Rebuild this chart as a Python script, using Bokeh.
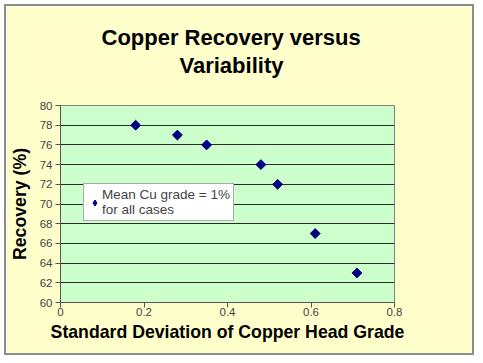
import math
from bokeh.plotting import figure
from bokeh.models import Legend, LegendItem, FixedTicker, Range1d, Title
from bokeh.embed import file_html
from bokeh.resources import INLINE

std_dev = [0.18, 0.28, 0.35, 0.48, 0.52, 0.61, 0.71]
recovery = [78, 77, 76, 74, 72, 67, 63]
x_ticks = [0, 0.2, 0.4, 0.6, 0.8]
y_ticks = [60, 62, 64, 66, 68, 70, 72, 74, 76, 78, 80]
title_lines = ["Copper Recovery versus", "Variability"]
legend_label = "Mean Cu grade = 1%\nfor all cases"

W, H = 470, 351
p = figure(width=W, height=H, output_backend="svg", toolbar_location=None,
           x_range=Range1d(0, 0.8), y_range=Range1d(60, 80),
           min_border_left=53, min_border_right=82, min_border_top=99, min_border_bottom=55)
p.styles = {"border": "2px solid #8c8c8c", "margin": "4px"}
p.background_fill_color = "#CCFFCC"
p.border_fill_color = "#FFFFCC"
p.outline_line_color = "#808080"
p.outline_line_width = 1


def style_title(t, standoff, offset):
    t.align = "left"
    t.text_font = "Liberation Sans"
    t.text_font_style = "bold"
    t.text_font_size = "22px"
    t.text_color = "#000000"
    t.standoff = standoff
    t.offset = offset


# spacer between the plot area and the two title lines
spacer = Title(text=" ", text_font_size="1px", standoff=24)
p.add_layout(spacer, "above")
t2 = Title(text=title_lines[1])
style_title(t2, 1, 119)
p.add_layout(t2, "above")
p.title.text = title_lines[0]
style_title(p.title, 1, 41)

p.xgrid.visible = False
p.ygrid.ticker = FixedTicker(ticks=y_ticks)
p.ygrid.grid_line_color = "#2a2a2a"
p.ygrid.grid_line_width = 1

p.xaxis.ticker = FixedTicker(ticks=x_ticks)
p.yaxis.ticker = FixedTicker(ticks=y_ticks)
for ax in (p.xaxis, p.yaxis):
    ax.major_label_text_font = "Liberation Sans"
    ax.major_label_text_font_size = "11.5px"
    ax.major_label_text_color = "#444444"
    ax.axis_line_color = "#555555"
    ax.major_tick_line_color = "#555555"
    ax.major_tick_out = 5
    ax.major_tick_in = 0
    ax.minor_tick_line_color = None
    ax.axis_label_text_font = "Liberation Sans"
    ax.axis_label_text_font_style = "bold"
    ax.axis_label_text_font_size = "17.7px"
    ax.axis_label_text_color = "#000000"
p.xaxis.major_label_standoff = 0
p.yaxis.major_label_standoff = 3
p.xaxis.axis_label = "Standard Deviation of Copper Head Grade"
p.yaxis.axis_label = "Recovery (%)"
p.xaxis.axis_label_standoff = 3
p.yaxis.axis_label_standoff = 7

# diamond renderer (hidden beneath the rotated squares) supplies the legend glyph
legend_marker = p.scatter(std_dev, recovery, marker="diamond", size=7,
                          fill_color="#000080", line_color="#000080")
p.scatter(std_dev, recovery, marker="square", angle=math.pi / 4, size=7,
          fill_color="#000080", line_color="#000080")

legend = Legend(items=[LegendItem(label=legend_label, renderers=[legend_marker])], location=(23, 81),
                label_text_font="Liberation Sans", label_text_font_size="13.5px",
                label_text_line_height=1.2,
                border_line_color="#555555", background_fill_color="#FFFFFF", background_fill_alpha=1,
                padding=3, spacing=0, glyph_width=15, glyph_height=17, label_standoff=0, margin=0)
p.add_layout(legend, "center")

open("out.html", "w").write(file_html(p, INLINE))
